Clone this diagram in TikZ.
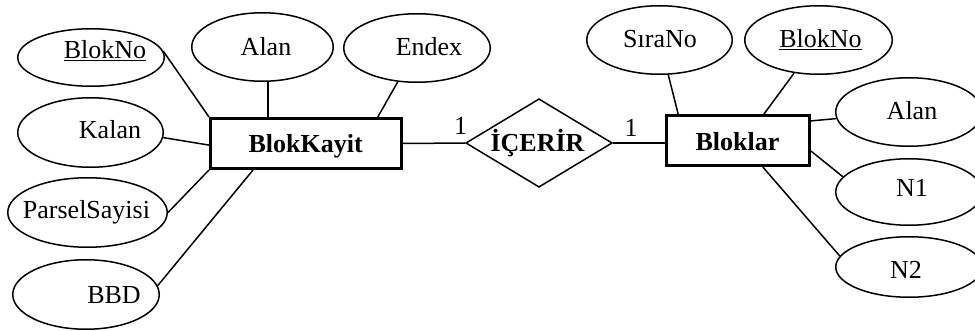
\documentclass[tikz,border=0pt]{standalone}
\usepackage{fontspec}
\setmainfont{Liberation Serif}
\usetikzlibrary{shapes.geometric,calc}
\begin{document}
\begin{tikzpicture}[x=1pt,y=-1pt,
  attr/.style={ellipse,draw,line width=1.5pt,inner sep=0pt},
  entity/.style={rectangle,draw,line width=3.3pt,inner sep=0pt,minimum width=#1,minimum height=49.7pt},
  rel/.style={diamond,draw,line width=1.5pt,inner sep=0pt,minimum width=146.5pt,minimum height=88.5pt},
  lbl/.style={anchor=base,inner sep=0pt,font=\fontsize{26}{30}\selectfont},
  blbl/.style={anchor=base,inner sep=0pt,font=\fontsize{26}{30}\selectfont\bfseries},
  link/.style={line width=1.5pt}]
\useasboundingbox (0,0) rectangle (975,331);

% entities and relationship
\node[entity=190.7pt] (bk) at (306,143.5) {};
\node[entity=142.7pt] (bl) at (738,140.5) {};
\node[rel] (ic) at (539,143) {};

% attributes of BlokKayit
\node[attr,minimum width=146.5pt,minimum height=57.5pt] (bn1) at (91,57.5) {};
\node[attr,minimum width=141.5pt,minimum height=68.5pt] (al1) at (262.5,47) {};
\node[attr,minimum width=146.5pt,minimum height=68.5pt] (en1) at (417,48) {};
\node[attr,minimum width=145.5pt,minimum height=69.5pt] (kl) at (90.5,132.5) {};
\node[attr,minimum width=159.5pt,minimum height=69.5pt] (ps) at (87.5,212.5) {};
\node[attr,minimum width=146.5pt,minimum height=69.5pt] (bbd) at (86,294.5) {};

% attributes of Bloklar
\node[attr,minimum width=145.5pt,minimum height=68.5pt] (srn) at (659.5,40) {};
\node[attr,minimum width=147.5pt,minimum height=68.5pt] (bn2) at (818.5,40) {};
\node[attr,minimum width=146.5pt,minimum height=68.5pt] (al2) at (909,112) {};
\node[attr,minimum width=146.5pt,minimum height=66.5pt] (n1) at (909,192) {};
\node[attr,minimum width=146.5pt,minimum height=60.5pt] (n2) at (909,267) {};

% texts
\node[blbl] (t-bk) at (305.7,152.7) {BlokKayit};
\node[blbl] (t-bl) at (737.5,150.7) {Bloklar};
\node[blbl] (t-ic) at (537.5,151.7) {İÇERİR};
\node[lbl] (t-c1) at (460.5,134.3) {1};
\node[lbl] (t-c2) at (631,136.7) {1};
\node[lbl] (t-bn1) at (105,58.3) {\underline{BlokNo}};
\node[lbl] (t-al1) at (266,56) {Alan};
\node[lbl] (t-en1) at (429,56) {Endex};
\node[lbl] (t-kl) at (110,138.3) {Kalan};
\node[lbl] (t-ps) at (86.5,218.3) {ParselSayisi};
\node[lbl] (t-bbd) at (114,304) {BBD};
\node[lbl] (t-srn) at (660,47.7) {SıraNo};
\node[lbl] (t-bn2) at (820.5,47.7) {\underline{BlokNo}};
\node[lbl] (t-al2) at (912,119.3) {Alan};
\node[lbl] (t-n1) at (912,196.7) {N1};
\node[lbl] (t-n2) at (906,279) {N2};

% connectors
\draw[link] (bn1.5) -- (bk.north west);
\draw[link] (al1.-81) -- (al1.-81 |- bk.north);
\draw[link] (en1) -- ($(bk.north west)!0.87!(bk.north east)$);
\draw[link] (kl.-4) -- ($(bk.north west)!0.53!(bk.south west)$);
\draw[link] (ps.east) -- (bk.south west);
\draw[link] (bbd.7) -- ($(bk.south west)!0.227!(bk.south east)$);
\draw[link] (bk.east) -- (ic.west);
\draw[link] (ic.east) -- (ic.east -| bl.west);
\draw[link] (srn) -- ($(bl.north west)!0.09!(bl.north east)$);
\draw[link] (bn2) -- ($(bl.north west)!0.678!(bl.north east)$);
\draw[link] (al2) -- ($(bl.north east)!0.13!(bl.south east)$);
\draw[link] (n1.167) -- ($(bl.north east)!0.70!(bl.south east)$);
\draw[link] (n2.171) -- ($(bl.south west)!0.67!(bl.south east)$);
\end{tikzpicture}
\end{document}
